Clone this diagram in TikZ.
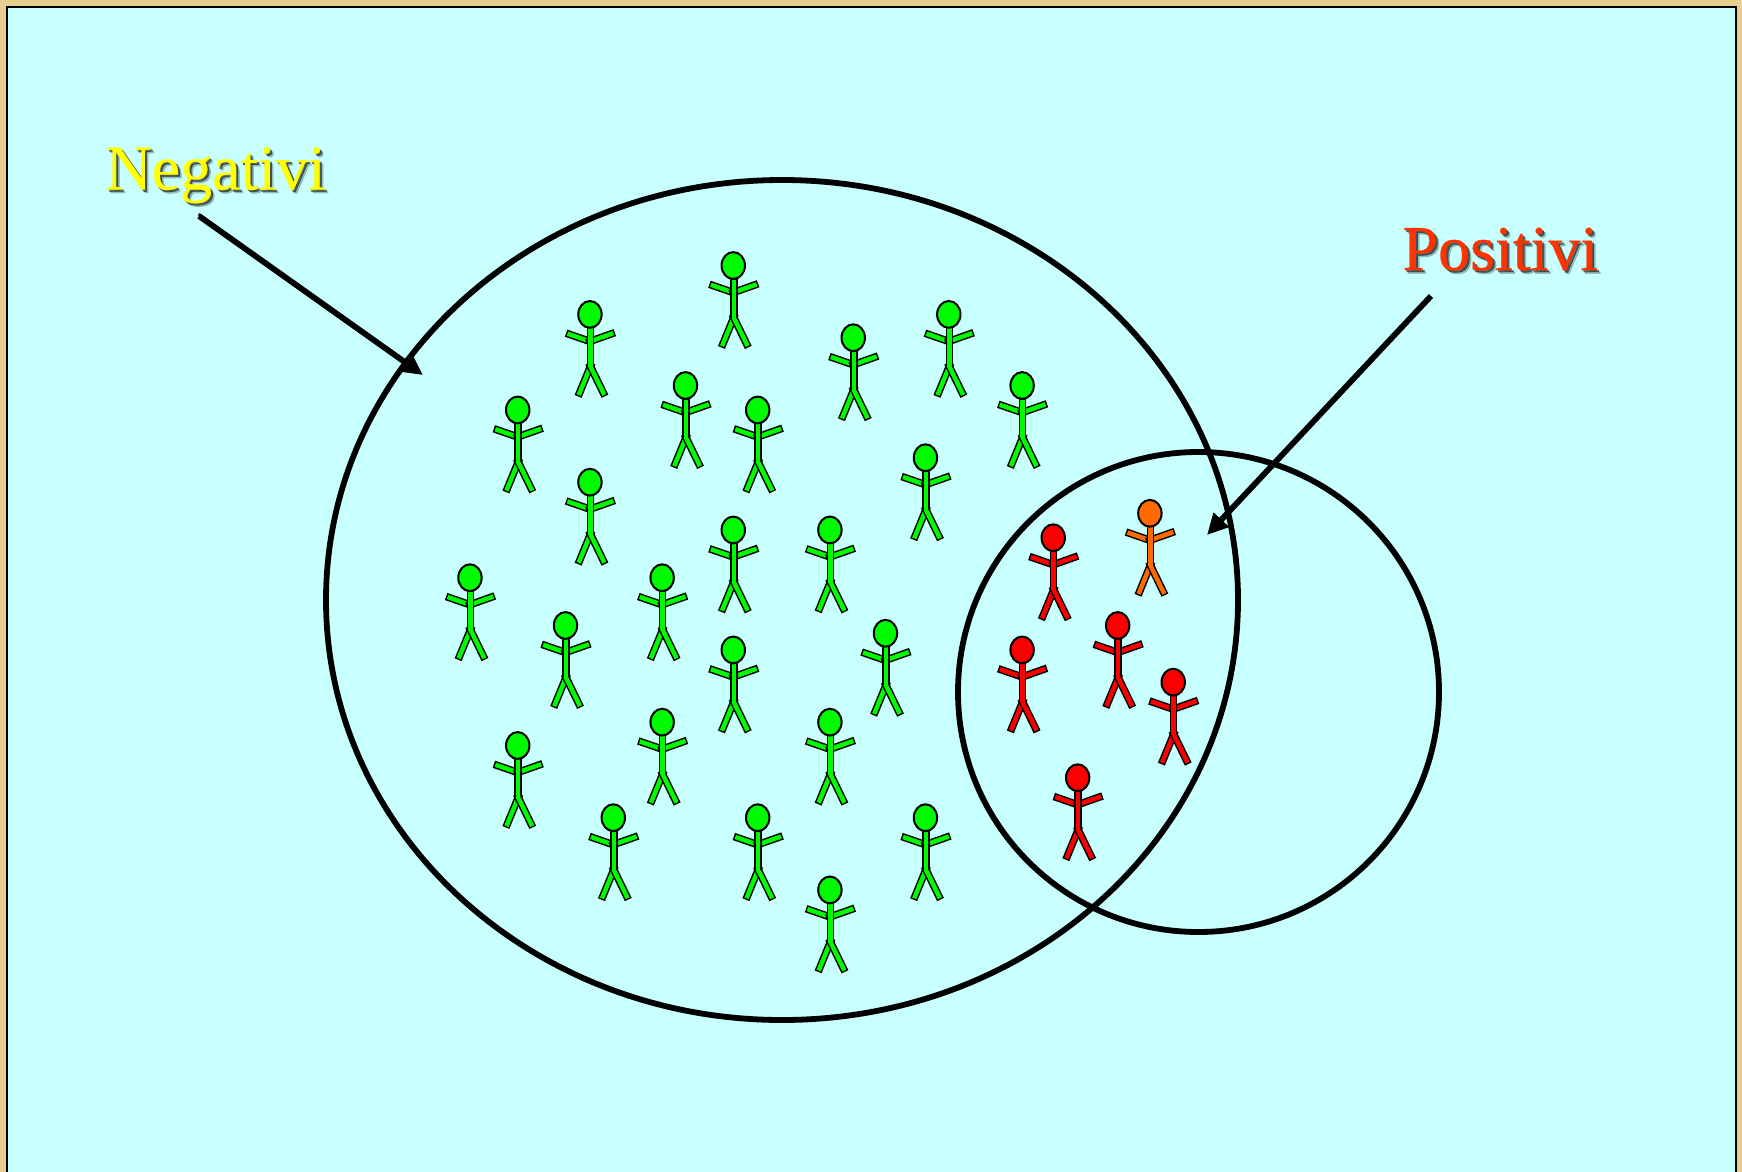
\documentclass[tikz,border=0pt]{standalone}
\usepackage{fontspec}
\setmainfont{Liberation Serif}[FakeBold=0.35]
\usetikzlibrary{arrows.meta,shapes.geometric}
\definecolor{panelcyan}{HTML}{C8FFFF}
\definecolor{woodtan}{HTML}{E8CE90}
\definecolor{labelyellow}{HTML}{FFFF00}
\definecolor{labelred}{HTML}{FF3300}
\definecolor{figgreen}{HTML}{00FA00}
\definecolor{figred}{HTML}{FA0000}
\definecolor{figorange}{HTML}{FF6A00}
\tikzset{
  x=1pt,y=-1pt,
  ring/.style={shape=ellipse,draw=black,line width=5.8pt,fill=none,inner sep=0pt,outer sep=0pt},
  pointer/.style={draw=black,line width=5.8pt,-{Triangle[length=21pt,width=20pt]}},
  label text/.style={anchor=base west,inner sep=0pt,outer sep=0pt,font=\fontsize{64}{64}\selectfont},
  person/.pic={
    \foreach \ax/\ay/\bx/\by in {-20.3/20/0/27, 21.3/19.5/0/27, 0.5/52/-10.4/78.5, 0.5/52/13.4/78.5}{
      \draw[black,line width=7.5pt,line cap=rect] (\ax,\ay)--(\bx,\by);
      \draw[#1,line width=4.5pt,line cap=rect] (\ax,\ay)--(\bx,\by);
    }
    \draw[black,line width=7.5pt] (0.5,13)--(0.5,52);
    \draw[#1,line width=4.5pt] (0.5,14)--(0.5,52);
    \draw[black,line width=2pt,fill=#1] (0,0) ellipse [x radius=11.7,y radius=13.4];
  }
}
\begin{document}
\begin{tikzpicture}
\useasboundingbox (0,0) rectangle (1742,1172);
\fill[woodtan] (0,0) rectangle (1742,1172);
\fill[panelcyan] (7,7) rectangle (1736,1172);
\draw[black,line width=2.4pt] (7,1172)--(7,7)--(1736,7)--(1736,1172);
\foreach \x/\y in {660/239,531/283,768/304,854/283,617/347,682/369,466/369,920/347,833/412,531/434,660/477,747/477,596/520,423/520,509/563,797/570,660/585,596/650,747/650,466/671,552/736,682/736,833/736,747/801}
  \pic at ({1.111*\x},{1.111*\y}) {person=figgreen};
\foreach \x/\y in {948/484,1006/563,920/585,1056/614,970/700}
  \pic at ({1.111*\x},{1.111*\y}) {person=figred};
\pic at ({1.111*1035},{1.111*462}) {person=figorange};
\node[ring,minimum width=912pt,minimum height=840pt] (neg) at (782,600) {};
\node[ring,minimum width=481pt,minimum height=480pt] (pos) at (1198.5,692) {};
\node[label text,black,opacity=.25] at (109,193) {Negativi};
\node[label text,black,opacity=.55] at (107.5,191.5) {Negativi};
\node[label text,labelyellow] (negl) at (105.5,189.5) {Negativi};
\node[label text,black,opacity=.25] at (1406,273.5) {Positivi};
\node[label text,black,opacity=.55] at (1404.5,272) {Positivi};
\node[label text,labelred] (posl) at (1402.5,270) {Positivi};
\coordinate (ns) at (199,216);
\coordinate (nt) at (423,375);
\coordinate (ps) at (1431,296);
\coordinate (pt) at (1207,535);
\draw[pointer] (ns)--(nt);
\draw[pointer] (ps)--(pt);
\fill[black] (198,216)--(199,213)--(205,217)--cycle;
\end{tikzpicture}
\end{document}
